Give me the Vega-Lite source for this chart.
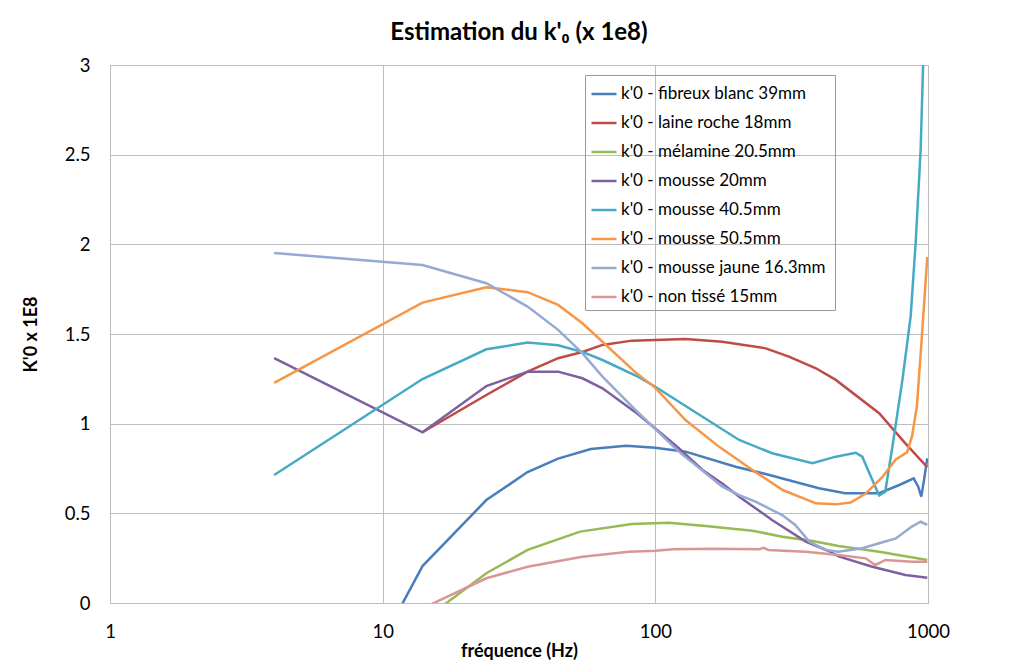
{
  "$schema": "https://vega.github.io/schema/vega-lite/v6.json",
  "width": 818,
  "height": 538,
  "autosize": "none",
  "padding": {"left": 110, "top": 65, "right": 83, "bottom": 60},
  "background": "white",
  "title": {"text": "Estimation du k'₀ (x 1e8)", "font": "Lato", "fontSize": 24, "fontWeight": "bold", "color": "#000000", "anchor": "middle", "offset": 11},
  "data": {"values": [
    {"s": "k'0 - fibreux blanc 39mm", "f": 4, "v": -1.34},
    {"s": "k'0 - fibreux blanc 39mm", "f": 14, "v": 0.206},
    {"s": "k'0 - fibreux blanc 39mm", "f": 24, "v": 0.574},
    {"s": "k'0 - fibreux blanc 39mm", "f": 34, "v": 0.73},
    {"s": "k'0 - fibreux blanc 39mm", "f": 44, "v": 0.805},
    {"s": "k'0 - fibreux blanc 39mm", "f": 58, "v": 0.859},
    {"s": "k'0 - fibreux blanc 39mm", "f": 78, "v": 0.877},
    {"s": "k'0 - fibreux blanc 39mm", "f": 100, "v": 0.866},
    {"s": "k'0 - fibreux blanc 39mm", "f": 129, "v": 0.844},
    {"s": "k'0 - fibreux blanc 39mm", "f": 197, "v": 0.76},
    {"s": "k'0 - fibreux blanc 39mm", "f": 262, "v": 0.714},
    {"s": "k'0 - fibreux blanc 39mm", "f": 398, "v": 0.64},
    {"s": "k'0 - fibreux blanc 39mm", "f": 497, "v": 0.612},
    {"s": "k'0 - fibreux blanc 39mm", "f": 662, "v": 0.612},
    {"s": "k'0 - fibreux blanc 39mm", "f": 785, "v": 0.658},
    {"s": "k'0 - fibreux blanc 39mm", "f": 886, "v": 0.695},
    {"s": "k'0 - fibreux blanc 39mm", "f": 920, "v": 0.65},
    {"s": "k'0 - fibreux blanc 39mm", "f": 945, "v": 0.593},
    {"s": "k'0 - fibreux blanc 39mm", "f": 967, "v": 0.686},
    {"s": "k'0 - fibreux blanc 39mm", "f": 994, "v": 0.807},

    {"s": "k'0 - laine roche 18mm", "f": 14, "v": 0.952},
    {"s": "k'0 - laine roche 18mm", "f": 24, "v": 1.16},
    {"s": "k'0 - laine roche 18mm", "f": 34, "v": 1.29},
    {"s": "k'0 - laine roche 18mm", "f": 44, "v": 1.365},
    {"s": "k'0 - laine roche 18mm", "f": 54, "v": 1.40},
    {"s": "k'0 - laine roche 18mm", "f": 64, "v": 1.439},
    {"s": "k'0 - laine roche 18mm", "f": 82, "v": 1.463},
    {"s": "k'0 - laine roche 18mm", "f": 100, "v": 1.467},
    {"s": "k'0 - laine roche 18mm", "f": 129, "v": 1.472},
    {"s": "k'0 - laine roche 18mm", "f": 176, "v": 1.457},
    {"s": "k'0 - laine roche 18mm", "f": 254, "v": 1.42},
    {"s": "k'0 - laine roche 18mm", "f": 309, "v": 1.374},
    {"s": "k'0 - laine roche 18mm", "f": 388, "v": 1.309},
    {"s": "k'0 - laine roche 18mm", "f": 459, "v": 1.244},
    {"s": "k'0 - laine roche 18mm", "f": 662, "v": 1.058},
    {"s": "k'0 - laine roche 18mm", "f": 826, "v": 0.89},
    {"s": "k'0 - laine roche 18mm", "f": 994, "v": 0.757},

    {"s": "k'0 - mélamine 20.5mm", "f": 14, "v": -0.10},
    {"s": "k'0 - mélamine 20.5mm", "f": 24, "v": 0.166},
    {"s": "k'0 - mélamine 20.5mm", "f": 34, "v": 0.296},
    {"s": "k'0 - mélamine 20.5mm", "f": 53, "v": 0.398},
    {"s": "k'0 - mélamine 20.5mm", "f": 82, "v": 0.44},
    {"s": "k'0 - mélamine 20.5mm", "f": 112, "v": 0.448},
    {"s": "k'0 - mélamine 20.5mm", "f": 153, "v": 0.429},
    {"s": "k'0 - mélamine 20.5mm", "f": 227, "v": 0.403},
    {"s": "k'0 - mélamine 20.5mm", "f": 292, "v": 0.37},
    {"s": "k'0 - mélamine 20.5mm", "f": 377, "v": 0.346},
    {"s": "k'0 - mélamine 20.5mm", "f": 470, "v": 0.318},
    {"s": "k'0 - mélamine 20.5mm", "f": 662, "v": 0.286},
    {"s": "k'0 - mélamine 20.5mm", "f": 994, "v": 0.24},

    {"s": "k'0 - mousse 20mm", "f": 4, "v": 1.365},
    {"s": "k'0 - mousse 20mm", "f": 14, "v": 0.952},
    {"s": "k'0 - mousse 20mm", "f": 24, "v": 1.21},
    {"s": "k'0 - mousse 20mm", "f": 34, "v": 1.29},
    {"s": "k'0 - mousse 20mm", "f": 44, "v": 1.29},
    {"s": "k'0 - mousse 20mm", "f": 54, "v": 1.253},
    {"s": "k'0 - mousse 20mm", "f": 64, "v": 1.197},
    {"s": "k'0 - mousse 20mm", "f": 84, "v": 1.067},
    {"s": "k'0 - mousse 20mm", "f": 100, "v": 0.973},
    {"s": "k'0 - mousse 20mm", "f": 122, "v": 0.863},
    {"s": "k'0 - mousse 20mm", "f": 149, "v": 0.742},
    {"s": "k'0 - mousse 20mm", "f": 176, "v": 0.667},
    {"s": "k'0 - mousse 20mm", "f": 203, "v": 0.593},
    {"s": "k'0 - mousse 20mm", "f": 268, "v": 0.463},
    {"s": "k'0 - mousse 20mm", "f": 356, "v": 0.342},
    {"s": "k'0 - mousse 20mm", "f": 432, "v": 0.29},
    {"s": "k'0 - mousse 20mm", "f": 470, "v": 0.26},
    {"s": "k'0 - mousse 20mm", "f": 625, "v": 0.202},
    {"s": "k'0 - mousse 20mm", "f": 826, "v": 0.156},
    {"s": "k'0 - mousse 20mm", "f": 994, "v": 0.141},

    {"s": "k'0 - mousse 40.5mm", "f": 4, "v": 0.714},
    {"s": "k'0 - mousse 40.5mm", "f": 14, "v": 1.249},
    {"s": "k'0 - mousse 40.5mm", "f": 24, "v": 1.415},
    {"s": "k'0 - mousse 40.5mm", "f": 34, "v": 1.452},
    {"s": "k'0 - mousse 40.5mm", "f": 44, "v": 1.437},
    {"s": "k'0 - mousse 40.5mm", "f": 54, "v": 1.40},
    {"s": "k'0 - mousse 40.5mm", "f": 64, "v": 1.355},
    {"s": "k'0 - mousse 40.5mm", "f": 87, "v": 1.259},
    {"s": "k'0 - mousse 40.5mm", "f": 100, "v": 1.206},
    {"s": "k'0 - mousse 40.5mm", "f": 133, "v": 1.086},
    {"s": "k'0 - mousse 40.5mm", "f": 203, "v": 0.909},
    {"s": "k'0 - mousse 40.5mm", "f": 268, "v": 0.835},
    {"s": "k'0 - mousse 40.5mm", "f": 377, "v": 0.78},
    {"s": "k'0 - mousse 40.5mm", "f": 459, "v": 0.816},
    {"s": "k'0 - mousse 40.5mm", "f": 543, "v": 0.838},
    {"s": "k'0 - mousse 40.5mm", "f": 574, "v": 0.816},
    {"s": "k'0 - mousse 40.5mm", "f": 625, "v": 0.686},
    {"s": "k'0 - mousse 40.5mm", "f": 662, "v": 0.60},
    {"s": "k'0 - mousse 40.5mm", "f": 697, "v": 0.62},
    {"s": "k'0 - mousse 40.5mm", "f": 740, "v": 0.87},
    {"s": "k'0 - mousse 40.5mm", "f": 805, "v": 1.24},
    {"s": "k'0 - mousse 40.5mm", "f": 864, "v": 1.6},
    {"s": "k'0 - mousse 40.5mm", "f": 902, "v": 2.02},
    {"s": "k'0 - mousse 40.5mm", "f": 940, "v": 2.53},
    {"s": "k'0 - mousse 40.5mm", "f": 959, "v": 2.99},
    {"s": "k'0 - mousse 40.5mm", "f": 994, "v": 3.6},

    {"s": "k'0  - mousse 50.5mm", "f": 4, "v": 1.228},
    {"s": "k'0  - mousse 50.5mm", "f": 14, "v": 1.675},
    {"s": "k'0  - mousse 50.5mm", "f": 24, "v": 1.761},
    {"s": "k'0  - mousse 50.5mm", "f": 34, "v": 1.733},
    {"s": "k'0  - mousse 50.5mm", "f": 44, "v": 1.662},
    {"s": "k'0  - mousse 50.5mm", "f": 54, "v": 1.56},
    {"s": "k'0  - mousse 50.5mm", "f": 64, "v": 1.457},
    {"s": "k'0  - mousse 50.5mm", "f": 84, "v": 1.29},
    {"s": "k'0  - mousse 50.5mm", "f": 100, "v": 1.2},
    {"s": "k'0  - mousse 50.5mm", "f": 129, "v": 1.02},
    {"s": "k'0  - mousse 50.5mm", "f": 171, "v": 0.872},
    {"s": "k'0  - mousse 50.5mm", "f": 227, "v": 0.742},
    {"s": "k'0  - mousse 50.5mm", "f": 293, "v": 0.63},
    {"s": "k'0  - mousse 50.5mm", "f": 388, "v": 0.556},
    {"s": "k'0  - mousse 50.5mm", "f": 459, "v": 0.55},
    {"s": "k'0  - mousse 50.5mm", "f": 520, "v": 0.56},
    {"s": "k'0  - mousse 50.5mm", "f": 591, "v": 0.61},
    {"s": "k'0  - mousse 50.5mm", "f": 678, "v": 0.70},
    {"s": "k'0  - mousse 50.5mm", "f": 762, "v": 0.80},
    {"s": "k'0  - mousse 50.5mm", "f": 838, "v": 0.84},
    {"s": "k'0  - mousse 50.5mm", "f": 874, "v": 0.93},
    {"s": "k'0  - mousse 50.5mm", "f": 911, "v": 1.1},
    {"s": "k'0  - mousse 50.5mm", "f": 951, "v": 1.5},
    {"s": "k'0  - mousse 50.5mm", "f": 994, "v": 1.93},

    {"s": "k'0  - mousse jaune 16.3mm", "f": 4, "v": 1.952},
    {"s": "k'0  - mousse jaune 16.3mm", "f": 14, "v": 1.885},
    {"s": "k'0  - mousse jaune 16.3mm", "f": 24, "v": 1.783},
    {"s": "k'0  - mousse jaune 16.3mm", "f": 34, "v": 1.653},
    {"s": "k'0  - mousse jaune 16.3mm", "f": 44, "v": 1.523},
    {"s": "k'0  - mousse jaune 16.3mm", "f": 54, "v": 1.393},
    {"s": "k'0  - mousse jaune 16.3mm", "f": 64, "v": 1.262},
    {"s": "k'0  - mousse jaune 16.3mm", "f": 87, "v": 1.058},
    {"s": "k'0  - mousse jaune 16.3mm", "f": 122, "v": 0.844},
    {"s": "k'0  - mousse jaune 16.3mm", "f": 176, "v": 0.649},
    {"s": "k'0  - mousse jaune 16.3mm", "f": 203, "v": 0.602},
    {"s": "k'0  - mousse jaune 16.3mm", "f": 233, "v": 0.565},
    {"s": "k'0  - mousse jaune 16.3mm", "f": 292, "v": 0.49},
    {"s": "k'0  - mousse jaune 16.3mm", "f": 326, "v": 0.435},
    {"s": "k'0  - mousse jaune 16.3mm", "f": 367, "v": 0.342},
    {"s": "k'0  - mousse jaune 16.3mm", "f": 421, "v": 0.296},
    {"s": "k'0  - mousse jaune 16.3mm", "f": 470, "v": 0.286},
    {"s": "k'0  - mousse jaune 16.3mm", "f": 574, "v": 0.305},
    {"s": "k'0  - mousse jaune 16.3mm", "f": 662, "v": 0.333},
    {"s": "k'0  - mousse jaune 16.3mm", "f": 762, "v": 0.36},
    {"s": "k'0  - mousse jaune 16.3mm", "f": 873, "v": 0.426},
    {"s": "k'0  - mousse jaune 16.3mm", "f": 940, "v": 0.453},
    {"s": "k'0  - mousse jaune 16.3mm", "f": 994, "v": 0.435},

    {"s": "k'0  - non tissé 15mm", "f": 14, "v": -0.03},
    {"s": "k'0  - non tissé 15mm", "f": 24, "v": 0.138},
    {"s": "k'0  - non tissé 15mm", "f": 34, "v": 0.202},
    {"s": "k'0  - non tissé 15mm", "f": 54, "v": 0.258},
    {"s": "k'0  - non tissé 15mm", "f": 80, "v": 0.286},
    {"s": "k'0  - non tissé 15mm", "f": 100, "v": 0.292},
    {"s": "k'0  - non tissé 15mm", "f": 116, "v": 0.30},
    {"s": "k'0  - non tissé 15mm", "f": 162, "v": 0.303},
    {"s": "k'0  - non tissé 15mm", "f": 240, "v": 0.30},
    {"s": "k'0  - non tissé 15mm", "f": 250, "v": 0.308},
    {"s": "k'0  - non tissé 15mm", "f": 260, "v": 0.296},
    {"s": "k'0  - non tissé 15mm", "f": 356, "v": 0.286},
    {"s": "k'0  - non tissé 15mm", "f": 470, "v": 0.268},
    {"s": "k'0  - non tissé 15mm", "f": 591, "v": 0.249},
    {"s": "k'0  - non tissé 15mm", "f": 640, "v": 0.212},
    {"s": "k'0  - non tissé 15mm", "f": 700, "v": 0.24},
    {"s": "k'0  - non tissé 15mm", "f": 873, "v": 0.23},
    {"s": "k'0  - non tissé 15mm", "f": 994, "v": 0.23}
  ]},
  "mark": {"type": "line", "clip": true, "strokeWidth": 2.5, "interpolate": "linear"},
  "encoding": {
    "x": {"field": "f", "type": "quantitative",
      "scale": {"type": "log", "domain": [1, 1000], "nice": false},
      "axis": {"title": "fréquence (Hz)", "values": [1, 10, 100, 1000], "format": "d", "labelFlush": false, "ticks": false, "labelPadding": 19, "titlePadding": 2}},
    "y": {"field": "v", "type": "quantitative",
      "scale": {"domain": [0, 3], "nice": false, "zero": false},
      "axis": {"title": "K'0 x 1E8", "values": [0, 0.5, 1, 1.5, 2, 2.5, 3], "format": "~g", "ticks": false, "labelPadding": 20, "titlePadding": 24}},
    "color": {"field": "s", "type": "nominal",
      "scale": {"domain": ["k'0 - fibreux blanc 39mm", "k'0 - laine roche 18mm", "k'0 - mélamine 20.5mm", "k'0 - mousse 20mm", "k'0 - mousse 40.5mm", "k'0  - mousse 50.5mm", "k'0  - mousse jaune 16.3mm", "k'0  - non tissé 15mm"],
        "range": ["#4A7EBB", "#BE4B48", "#98B954", "#7D60A0", "#46AAC5", "#F79646", "#94AAD4", "#D99694"]},
      "legend": {"title": null, "orient": "none", "legendX": 475, "legendY": 10, "symbolType": "stroke", "symbolSize": 625, "symbolStrokeWidth": 2.5, "labelFontSize": 17, "labelFont": "Lato", "labelColor": "#000000", "rowPadding": 7, "labelOffset": 3, "strokeColor": "#9A9A9A", "padding": 5, "labelLimit": 400}}
  },
  "config": {
    "view": {"stroke": "#BDBDBD", "strokeWidth": 1},
    "axis": {"labelFont": "Lato", "labelFontSize": 18.5, "labelColor": "#000000", "titleFont": "Lato", "titleFontSize": 18, "titleFontWeight": "bold", "titleColor": "#000000", "gridColor": "#BDBDBD", "gridOpacity": 1, "domainColor": "#BDBDBD", "grid": true}
  }
}
